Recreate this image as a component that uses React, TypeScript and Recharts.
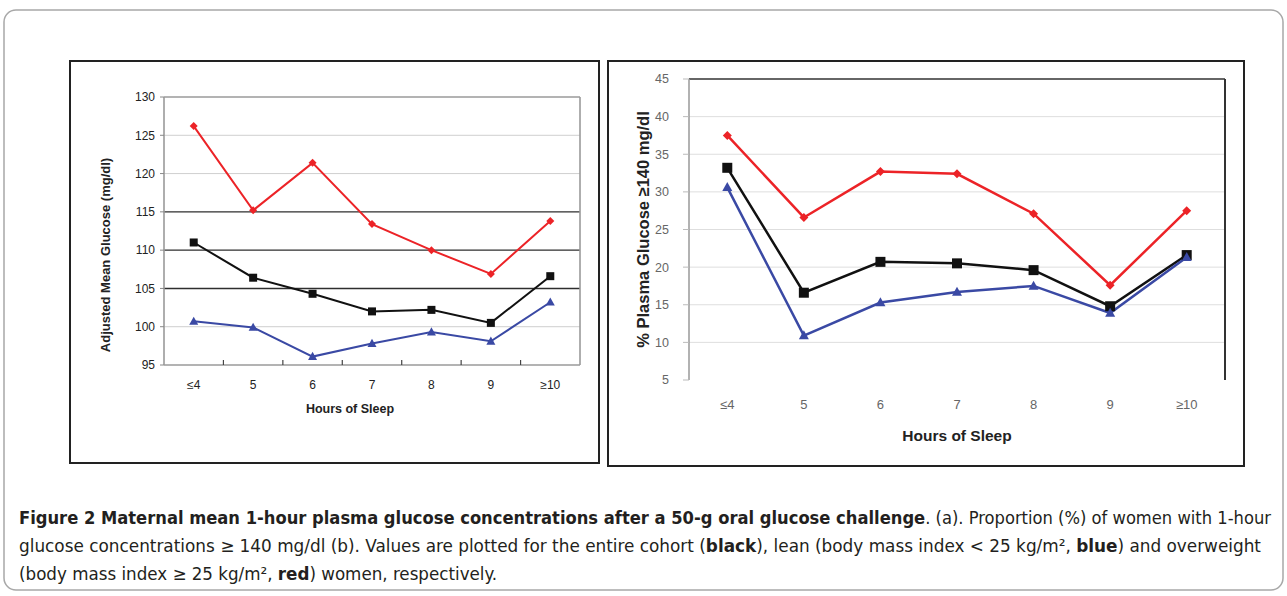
import React from 'react';
import {
  LineChart,
  Line,
  XAxis,
  YAxis,
  CartesianGrid,
  ReferenceLine,
  Label,
} from 'recharts';

// categories (hours of sleep)
const hours = ['≤4', '5', '6', '7', '8', '9', '≥10'];

// (a) adjusted mean glucose, mg/dl
const meanOverweight = [126.2, 115.2, 121.4, 113.4, 110.0, 106.9, 113.8];
const meanAll = [111.0, 106.4, 104.3, 102.0, 102.2, 100.5, 106.6];
const meanLean = [100.7, 99.9, 96.1, 97.8, 99.3, 98.1, 103.2];

// (b) % with 1-hour glucose >= 140 mg/dl
const pctOverweight = [37.5, 26.6, 32.7, 32.4, 27.1, 17.6, 27.5];
const pctAll = [33.2, 16.6, 20.7, 20.5, 19.6, 14.8, 21.6];
const pctLean = [30.6, 10.9, 15.3, 16.7, 17.5, 13.9, 21.3];

// axis ticks
const meanTicks = [95, 100, 105, 110, 115, 120, 125, 130];
const meanLightGrid = [100, 120, 125];
const meanDarkGrid = [105, 110, 115];
const pctTicks = [5, 10, 15, 20, 25, 30, 35, 40, 45];
const pctGrid = [10, 15, 20, 25, 30, 35, 40];

const meanData = hours.map((h, i) => ({
  hours: h,
  all: meanAll[i],
  lean: meanLean[i],
  over: meanOverweight[i],
}));

const pctData = hours.map((h, i) => ({
  hours: h,
  all: pctAll[i],
  lean: pctLean[i],
  over: pctOverweight[i],
}));

const RED = '#ec2327';
const BLUE = '#3a49a4';
const BLACK = '#111';
const SANS = '"Liberation Sans", Arial, sans-serif';
const NARROW = '"Liberation Sans Narrow", "DejaVu Sans Condensed", "Liberation Sans", sans-serif';

// plot widths, used for half-band padding on the category axes
const MEAN_PLOT_W = 416;
const PCT_PLOT_W = 536;
const MEAN_BAND = MEAN_PLOT_W / hours.length;
const PCT_BAND = PCT_PLOT_W / hours.length;

// marker shapes
const makeDot = (shape: 'diamond' | 'square' | 'triangle', size: number, color: string) =>
  (props: any) => {
    const { cx, cy, index } = props;
    const key = `${shape}-${index}`;
    if (cx == null || cy == null) return <g key={key} />;
    const r = size / 2;
    if (shape === 'square') {
      return <rect key={key} x={cx - r} y={cy - r} width={size} height={size} fill={color} />;
    }
    if (shape === 'diamond') {
      return (
        <polygon
          key={key}
          points={`${cx},${cy - r} ${cx + r},${cy} ${cx},${cy + r} ${cx - r},${cy}`}
          fill={color}
        />
      );
    }
    return (
      <polygon
        key={key}
        points={`${cx},${cy - r * 1.05} ${cx + r},${cy + r * 0.75} ${cx - r},${cy + r * 0.75}`}
        fill={color}
      />
    );
  };

// category label plus a small inward tick on the boundary to its right
const MEAN_TICK_GAP = 15; // tickSize + tickMargin of the x axis below
const MeanHourTick = (props: any) => {
  const { x, y, payload, index } = props;
  const axisY = y - MEAN_TICK_GAP;
  const bx = x + MEAN_BAND / 2;
  return (
    <g>
      {index < hours.length - 1 && (
        <line x1={bx} x2={bx} y1={axisY} y2={axisY - 5} stroke="#444" strokeWidth={1.2} />
      )}
      <text x={x} y={y} dy="0.71em" textAnchor="middle" fontSize={12} fill="#222" fontFamily={SANS}>
        {payload.value}
      </text>
    </g>
  );
};

function MeanChart() {
  const pad = MEAN_BAND / 2;
  return (
    <LineChart
      width={530}
      height={402}
      data={meanData}
      margin={{ top: 36, right: 20, bottom: 68, left: 0 }}
    >
      <CartesianGrid vertical={false} stroke="#cfcfcf" horizontalValues={meanLightGrid} />
      <XAxis
        dataKey="hours"
        height={30}
        interval={0}
        padding={{ left: pad, right: pad }}
        tickLine={false}
        axisLine={{ stroke: '#9a9a9a', strokeWidth: 1.6 }}
        tickSize={6}
        tickMargin={9}
        tick={<MeanHourTick />}
      >
        <Label
          value="Hours of Sleep"
          position="bottom"
          offset={9}
          dx={-22}
          style={{ fontSize: 12.5, fontWeight: 'bold', fill: '#222', fontFamily: SANS }}
        />
      </XAxis>
      <YAxis
        domain={[95, 130]}
        ticks={meanTicks}
        interval={0}
        width={94}
        axisLine={{ stroke: '#9a9a9a', strokeWidth: 1.6 }}
        tickSize={4}
        tickMargin={5}
        tickLine={{ stroke: '#888' }}
        tick={{ fontSize: 12, fill: '#222', fontFamily: SANS }}
      >
        <Label
          value="Adjusted Mean Glucose (mg/dl)"
          angle={-90}
          position="insideLeft"
          offset={35}
          dy={24}
          style={{ textAnchor: 'middle', fontSize: 13, fontWeight: 'bold', fill: '#222', fontFamily: SANS }}
        />
      </YAxis>
      <YAxis
        yAxisId="r"
        orientation="right"
        mirror
        width={1}
        domain={[95, 130]}
        tick={false}
        tickLine={false}
        axisLine={{ stroke: '#9a9a9a', strokeWidth: 1.6 }}
      />
      {meanDarkGrid.map((v) => (
        <ReferenceLine key={v} y={v} stroke="#2e2e2e" strokeWidth={1.4} />
      ))}
      <ReferenceLine y={130} stroke="#9a9a9a" strokeWidth={1.6} />
      <Line
        dataKey="over"
        stroke={RED}
        strokeWidth={2}
        dot={makeDot('diamond', 8, RED)}
        isAnimationActive={false}
      />
      <Line
        dataKey="all"
        stroke={BLACK}
        strokeWidth={2}
        dot={makeDot('square', 8, BLACK)}
        isAnimationActive={false}
      />
      <Line
        dataKey="lean"
        stroke={BLUE}
        strokeWidth={2}
        dot={makeDot('triangle', 9, BLUE)}
        isAnimationActive={false}
      />
    </LineChart>
  );
}

function PctChart() {
  const pad = PCT_BAND / 2;
  return (
    <LineChart
      width={636}
      height={405}
      data={pctData}
      margin={{ top: 18, right: 19, bottom: 56, left: 0 }}
    >
      <CartesianGrid vertical={false} stroke="#dedede" horizontalValues={pctGrid} />
      <XAxis
        dataKey="hours"
        height={30}
        interval={0}
        padding={{ left: pad, right: pad }}
        tickLine={false}
        axisLine={false}
        tickSize={6}
        tickMargin={14}
        tick={{ fontSize: 13, fill: '#666', fontFamily: SANS }}
      >
        <Label
          value="Hours of Sleep"
          position="bottom"
          offset={20}
          style={{ fontSize: 15.5, fontWeight: 'bold', fill: '#222', fontFamily: SANS }}
        />
      </XAxis>
      <YAxis
        domain={[5, 45]}
        ticks={pctTicks}
        interval={0}
        width={81}
        axisLine={{ stroke: '#999', strokeWidth: 1.5 }}
        tickSize={6}
        tickMargin={14}
        tickLine={{ stroke: '#bbb' }}
        tick={{ fontSize: 12.5, fill: '#666', fontFamily: SANS }}
      >
        <Label
          value="% Plasma Glucose ≥140 mg/dl"
          angle={-90}
          position="insideLeft"
          offset={35}
          style={{ textAnchor: 'middle', fontSize: 16.5, fontWeight: 'bold', fill: '#222', fontFamily: SANS }}
        />
      </YAxis>
      <YAxis
        yAxisId="r"
        orientation="right"
        mirror
        width={1}
        domain={[5, 45]}
        tick={false}
        tickLine={false}
        axisLine={{ stroke: '#333', strokeWidth: 2 }}
      />
      <ReferenceLine y={45} stroke="#666" strokeWidth={2} />
      <Line
        dataKey="over"
        stroke={RED}
        strokeWidth={2.5}
        dot={makeDot('diamond', 9, RED)}
        isAnimationActive={false}
      />
      <Line
        dataKey="all"
        stroke={BLACK}
        strokeWidth={2.5}
        dot={makeDot('square', 10, BLACK)}
        isAnimationActive={false}
      />
      <Line
        dataKey="lean"
        stroke={BLUE}
        strokeWidth={2.5}
        dot={makeDot('triangle', 10, BLUE)}
        isAnimationActive={false}
      />
    </LineChart>
  );
}

export default function App() {
  return (
    <div
      style={{
        position: 'absolute',
        left: 0,
        top: 0,
        width: 1287,
        height: 596,
        background: '#fff',
        overflow: 'hidden',
      }}
    >
      {/* frame, panel boxes and caption */}
      <svg width={1287} height={596} style={{ position: 'absolute', left: 0, top: 0 }}>
        <rect x={4} y={10} width={1279} height={580} rx={12} fill="#fff" stroke="#a8a8a8" strokeWidth={1.5} />
        <rect x={70} y={61} width={529} height={402} fill="#fff" stroke="#222" strokeWidth={2} />
        <rect x={608} y={61} width={636} height={405} fill="#fff" stroke="#222" strokeWidth={2} />
        <g fontFamily={NARROW} fontSize={17.5} fill="#231f20">
          <text x={19} y={524} textLength={1252} lengthAdjust="spacingAndGlyphs">
            <tspan fontWeight="bold">
              Figure 2 Maternal mean 1-hour plasma glucose concentrations after a 50-g oral glucose challenge
            </tspan>
            <tspan>. (a). Proportion (%) of women with 1-hour</tspan>
          </text>
          <text x={19} y={552} textLength={1242} lengthAdjust="spacingAndGlyphs">
            <tspan>glucose concentrations ≥ 140 mg/dl (b). Values are plotted for the entire cohort (</tspan>
            <tspan fontWeight="bold">black</tspan>
            <tspan>), lean (body mass index &lt; 25 kg/m², </tspan>
            <tspan fontWeight="bold">blue</tspan>
            <tspan>) and overweight</tspan>
          </text>
          <text x={19} y={580} textLength={478} lengthAdjust="spacingAndGlyphs">
            <tspan>(body mass index ≥ 25 kg/m², </tspan>
            <tspan fontWeight="bold">red</tspan>
            <tspan>) women, respectively.</tspan>
          </text>
        </g>
      </svg>
      <div style={{ position: 'absolute', left: 70, top: 61 }}>
        <MeanChart />
      </div>
      <div style={{ position: 'absolute', left: 608, top: 61 }}>
        <PctChart />
      </div>
    </div>
  );
}
